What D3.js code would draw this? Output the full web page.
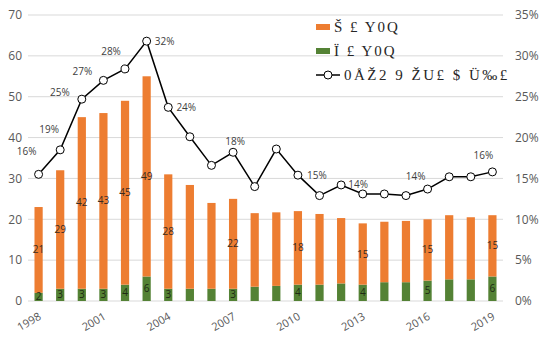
<!DOCTYPE html>
<meta charset="utf-8">
<head>
<script src="https://d3js.org/d3.v7.min.js"></script>
<style>
  body { margin: 0; background: #fff; }
  text { font-family: "Open Sans", "DejaVu Sans", sans-serif; }
</style>
</head>
<body>
<svg id="chart" width="540" height="348"></svg>
<script>
// data
var years = d3.range(1998, 2020);
var greenVals  = [2, 3, 3, 3, 4, 6, 3, 3, 3, 3, 3.5, 3.7, 4, 4, 4.3, 4, 4.6, 4.6, 5, 5.3, 5.3, 6];
var orangeVals = [21, 29, 42, 43, 45, 49, 28, 25.4, 21, 22, 18, 18, 18, 17.3, 16, 15, 14.8, 15, 15, 15.7, 15.2, 15];
var shareVals  = [15.5, 18.5, 24.7, 27.0, 28.4, 31.8, 23.7, 20.1, 16.6, 18.2, 14.0, 18.6, 15.4, 12.9, 14.2, 13.1, 13.1, 12.9, 13.7, 15.2, 15.2, 15.8];
var labelYears = [1998, 1999, 2000, 2001, 2002, 2003, 2004, 2007, 2010, 2013, 2016, 2019];
var shareLabels = [
  [1998, "16%", -12, -23], [1999, "19%", -11, -20], [2000, "25%", -22, -7],
  [2001, "27%", -21, -9], [2002, "28%", -14, -17], [2003, "32%", 18, 0],
  [2004, "24%", 18, 0], [2007, "18%", 2, -11], [2010, "15%", 19, 0],
  [2012, "14%", 17, 0], [2016, "14%", -12, -13], [2019, "16%", -9, -16]
];
var legendNames = ["Š £ Y0Q", "Ï £ Y0Q", "0ÅŽ2 9 ŽU£  $ Ü‰£"];

var svg = d3.select("#chart");
var mLeft = 28, mRight = 503, mTop = 15, mBottom = 301;

var x = d3.scaleBand().domain(years).range([mLeft, mRight]).paddingInner(0.62).paddingOuter(0.3);
var y = d3.scaleLinear().domain([0, 70]).range([mBottom, mTop]);
var y2 = d3.scaleLinear().domain([0, 35]).range([mBottom, mTop]);

// gridlines
svg.append("g").selectAll("line")
  .data(y.ticks(7))
  .enter().append("line")
    .attr("x1", mLeft).attr("x2", mRight)
    .attr("y1", function(d) { return y(d); }).attr("y2", function(d) { return y(d); })
    .attr("stroke", "#d9d9d9").attr("stroke-width", 1);

// left axis
var yAx = svg.append("g").attr("transform", "translate(" + mLeft + ",0)")
  .call(d3.axisLeft(y).ticks(7).tickSize(0).tickPadding(6));
yAx.select(".domain").remove();
yAx.selectAll("text").attr("font-size", 12).attr("fill", "#595959").style("font-family", "Open Sans, sans-serif");

// right axis
var yAx2 = svg.append("g").attr("transform", "translate(" + mRight + ",0)")
  .call(d3.axisRight(y2).ticks(7).tickSize(0).tickPadding(12).tickFormat(function(d) { return d + "%"; }));
yAx2.select(".domain").remove();
yAx2.selectAll("text").attr("font-size", 12).attr("fill", "#595959").style("font-family", "Open Sans, sans-serif");

// x axis labels
var xAx = svg.append("g").attr("transform", "translate(0," + mBottom + ")")
  .call(d3.axisBottom(x).tickSize(0).tickValues(years.filter(function(d) { return (d - 1998) % 3 === 0; })));
xAx.select(".domain").remove();
xAx.selectAll("text")
  .attr("font-size", 11).attr("fill", "#595959")
  .style("text-anchor", "end")
  .attr("y", 0).attr("dx", "-6px").attr("dy", "17px")
  .attr("transform", "rotate(-30)");

// bars
var bars = svg.append("g");
bars.selectAll(".g").data(years).enter().append("rect")
  .attr("x", function(d) { return x(d); })
  .attr("width", x.bandwidth())
  .attr("y", function(d, i) { return y(greenVals[i]); })
  .attr("height", function(d, i) { return y(0) - y(greenVals[i]); })
  .attr("fill", "#548235");
bars.selectAll(".o").data(years).enter().append("rect")
  .attr("x", function(d) { return x(d); })
  .attr("width", x.bandwidth())
  .attr("y", function(d, i) { return y(greenVals[i] + orangeVals[i]); })
  .attr("height", function(d, i) { return y(greenVals[i]) - y(greenVals[i] + orangeVals[i]); })
  .attr("fill", "#ED7D31");

// bar labels
var lab = svg.append("g").attr("font-size", 10).attr("text-anchor", "middle");
labelYears.forEach(function(yr) {
  var i = years.indexOf(yr);
  var cx = x(yr) + x.bandwidth() / 2;
  lab.append("text").attr("x", cx).attr("y", y(greenVals[i] + orangeVals[i] / 2)).attr("dy", "0.35em")
    .style("fill", "#3a2a20").text(Math.round(orangeVals[i]));
  lab.append("text").attr("x", cx).attr("y", y(greenVals[i] / 2)).attr("dy", "0.35em")
    .style("fill", "#1e2a14").text(Math.round(greenVals[i]));
});

// line
var line = d3.line()
  .x(function(d, i) { return x(years[i]) + x.bandwidth() / 2; })
  .y(function(d) { return y2(d); });
svg.append("path").datum(shareVals)
  .attr("d", line).attr("fill", "none").attr("stroke", "#000").attr("stroke-width", 1.5);
svg.append("g").selectAll("circle").data(shareVals).enter().append("circle")
  .attr("cx", function(d, i) { return x(years[i]) + x.bandwidth() / 2; })
  .attr("cy", function(d) { return y2(d); })
  .attr("r", 4).attr("fill", "#fff").attr("stroke", "#000").attr("stroke-width", 1);

// line labels
var sl = svg.append("g").attr("font-size", 10).attr("text-anchor", "middle");
shareLabels.forEach(function(s) {
  var i = years.indexOf(s[0]);
  sl.append("text")
    .attr("x", x(s[0]) + x.bandwidth() / 2 + s[2])
    .attr("y", y2(shareVals[i]) + s[3]).attr("dy", "0.35em")
    .style("fill", "#404040")
    .text(s[1]);
});

// legend
var lg = svg.append("g").attr("transform", "translate(316,0)");
[["#ED7D31", 27], ["#548235", 51]].forEach(function(c, k) {
  lg.append("rect").attr("x", 0).attr("y", c[1] - 3).attr("width", 14).attr("height", 6).attr("fill", c[0]);
  lg.append("text").attr("x", 18).attr("y", c[1]).attr("dy", "0.35em")
    .style("font-family", "Liberation Serif, serif").style("letter-spacing", "2px")
    .attr("font-size", 15).style("fill", "#262626")
    .text(legendNames[k]);
});
lg.append("line").attr("x1", 0).attr("x2", 24).attr("y1", 75).attr("y2", 75).attr("stroke", "#000").attr("stroke-width", 1.5);
lg.append("circle").attr("cx", 12).attr("cy", 75).attr("r", 4).attr("fill", "#fff").attr("stroke", "#000");
lg.append("text").attr("x", 28).attr("y", 75).attr("dy", "0.35em")
  .style("font-family", "Liberation Serif, serif").style("letter-spacing", "2.5px")
  .attr("font-size", 15).style("fill", "#262626")
  .text(legendNames[2]);
</script>
</body>
</html>
